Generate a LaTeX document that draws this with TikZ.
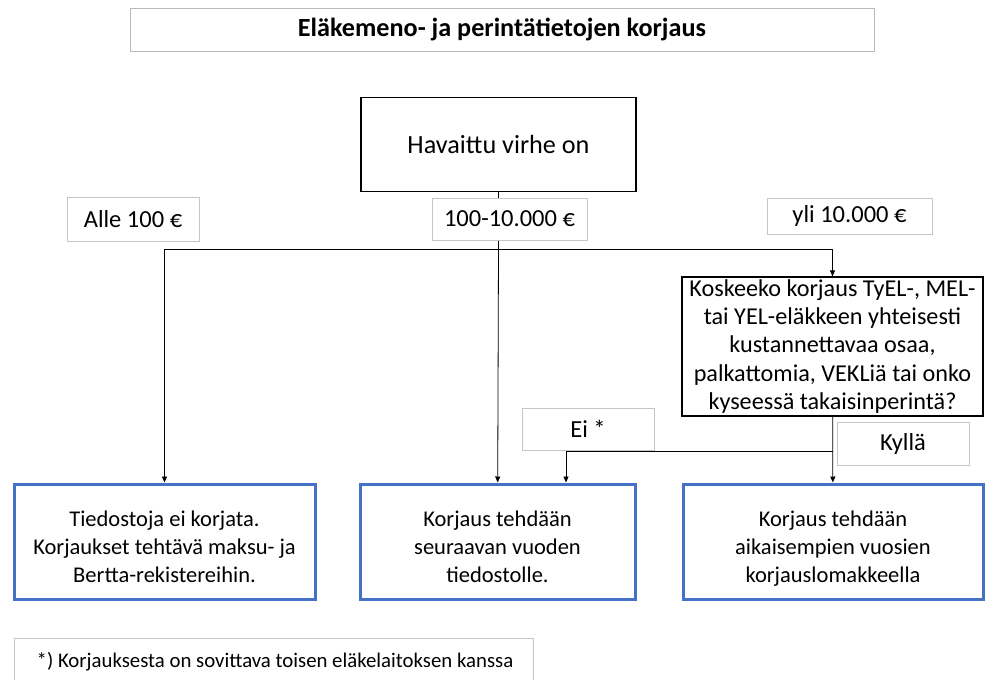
\documentclass[tikz,border=0pt]{standalone}
\usepackage{fontspec}
\setmainfont{Carlito}
\usetikzlibrary{arrows.meta,positioning}

\begin{document}
\begin{tikzpicture}[x=1pt, y=-1pt,
	box/.style={draw, fill=white, inner sep=0pt, align=center},
	label/.style={box, draw=gray!45, line width=0.6pt, font=\fontsize{24.5}{28}\selectfont},
	result/.style={box, draw=resultblue, line width=3pt, text height=90pt, text depth=8pt,
		minimum width=#1, minimum height=115pt, font=\fontsize{22.5}{28}\selectfont},
	link/.style={line width=0.8pt},
	arrow/.style={link, -{Triangle[length=6pt, width=5pt]}},
	]
	\definecolor{resultblue}{HTML}{4472C4}
	\useasboundingbox (0,0) rectangle (989,680);

	\node[box, draw=gray!55, line width=0.8pt, minimum width=744pt, minimum height=43pt,
		font=\bfseries\fontsize{26.2}{30}\selectfont] (title) at (502,29.5) {Eläkemeno- ja perintätietojen korjaus};
	\node[box, line width=1.6pt, minimum width=275pt, minimum height=94pt,
		font=\fontsize{26.2}{30}\selectfont] (virhe) at (498.5,144.5) {Havaittu virhe on};
	\node[box, line width=1.2pt, minimum width=301pt, minimum height=139pt,
		font=\fontsize{24.2}{28.3}\selectfont] (kysymys) at (832.5,346.5)
		{Koskeeko korjaus TyEL-, MEL-\\tai YEL-eläkkeen yhteisesti\\kustannettavaa osaa,\\palkattomia, VEKLiä tai onko\\kyseessä takaisinperintä?};

	\node[result=301pt] (pieni) at (164.5,541.5) {Tiedostoja ei korjata.\\Korjaukset tehtävä maksu- ja\\Bertta-rekistereihin.};
	\node[result=275pt] (seuraava) at (497.5,541.5) {Korjaus tehdään\\seuraavan vuoden\\tiedostolle.};
	\node[result=300pt] (aiempi) at (833,541.5) {Korjaus tehdään\\aikaisempien vuosien\\korjauslomakkeella};

	\coordinate (haara) at (498.5,249);
	\coordinate (vasen) at (164.5,249);
	\coordinate (oikea) at (832.5,249);
	\coordinate (eiliitos) at (832.5,451);
	\coordinate (eikulma) at (566,451);

	\draw[link] (virhe) -- (haara);
	\draw[link] (vasen) -- (oikea);
	\draw[arrow] (vasen) -- (pieni);
	\draw[arrow] (haara) -- (seuraava);
	\draw[arrow] (oikea) -- (kysymys);
	\draw[arrow] (kysymys) -- (aiempi);
	\draw[link] (eiliitos) -- (eikulma);
	\draw[arrow] (eikulma) -- (eikulma |- seuraava.north);

	\node[label, minimum width=132pt, minimum height=44pt] (alle) at (133,219.5) {Alle 100 €};
	\node[label, minimum width=155pt, minimum height=42pt] (keski) at (509.5,219) {100-10.000 €};
	\node[label, minimum width=165pt, minimum height=36pt] (yli) at (849.5,216) {yli 10.000 €};
	\node[label, minimum width=132pt, minimum height=42pt] (ei) at (588,429) {Ei *};
	\node[label, minimum width=132pt, minimum height=43pt] (kylla) at (903,443.5) {Kyllä};

	\node[label, minimum width=519pt, minimum height=52pt, anchor=north west] (huom) at (14,638) {};
	\node[font=\fontsize{20.8}{24}\selectfont] (huomteksti) at (275,662) {*) Korjauksesta on sovittava toisen eläkelaitoksen kanssa};
\end{tikzpicture}
\end{document}
